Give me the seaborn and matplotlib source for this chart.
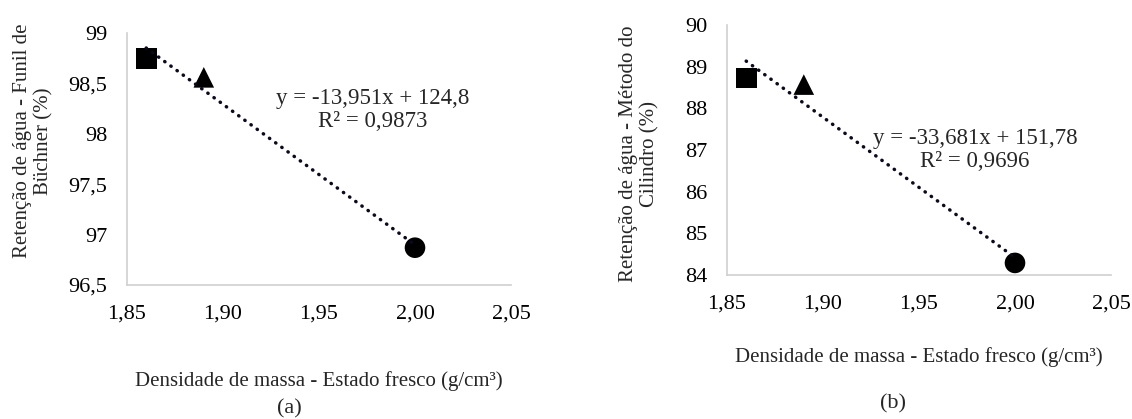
import matplotlib
matplotlib.use("Agg")
import matplotlib.pyplot as plt
import seaborn as sns
import numpy as np
import pandas as pd
from matplotlib.ticker import FuncFormatter, MultipleLocator

# ---- data ----
density = [1.86, 1.89, 2.00]
groups = ["A", "B", "C"]
ret_buchner = [98.75, 98.56, 96.87]
ret_cilindro = [88.73, 88.57, 84.29]
slope = [-13.951, -33.681]
intercept = [124.8, 151.78]
eq_text = ["y = -13,951x + 124,8\nR² = 0,9873", "y = -33,681x + 151,78\nR² = 0,9696"]
ylabels = ["Retenção de água - Funil de\nBüchner (%)", "Retenção de água - Método do\nCilindro (%)"]
xlabel = "Densidade de massa - Estado fresco (g/cm³)"
panel_tags = ["(a)", "(b)"]
ylims = [(96.5, 99.0), (84.0, 90.0)]
ysteps = [0.5, 1.0]

sns.set_theme(style="white")
plt.rcParams["font.family"] = ["Liberation Serif", "DejaVu Serif"]

fig = plt.figure(figsize=(11.32, 4.19), dpi=100)
W, H = 1132, 419
# axes boxes in pixels: left, top, right, bottom
boxes = [(127, 33, 511, 285), (727, 25, 1111, 275)]
ylab_pos = [(-0.243, 0.571), (-0.228, 0.484)]
xlab_y = [381, 357]
eq_pos = [(0.64, 0.695), (0.646, 0.5)]
tag_pos = [(289, 409), (893, 404)]

markers = {"A": "s", "B": "^", "C": "o"}
line_color = "#0a0a1c"

for i, yv in enumerate([ret_buchner, ret_cilindro]):
    l, t, r, b = boxes[i]
    ax = fig.add_axes([l / W, (H - b) / H, (r - l) / W, (b - t) / H])
    df = pd.DataFrame({"x": density, "y": yv, "g": groups})
    xs = np.array([min(density), max(density)])
    tl = pd.DataFrame({"x": xs, "y": slope[i] * xs + intercept[i]})
    sns.lineplot(data=tl, x="x", y="y", ax=ax, color=line_color, lw=2.5,
                 linestyle=(0, (0.1, 2.1)), dash_capstyle="round", zorder=3)
    sns.scatterplot(data=df, x="x", y="y", style="g", markers=markers, ax=ax,
                    color="black", s=220, edgecolor="none", legend=False, zorder=2)
    ax.set_xlim(1.85, 2.05)
    ax.set_ylim(*ylims[i])
    ax.xaxis.set_major_locator(MultipleLocator(0.05))
    ax.yaxis.set_major_locator(MultipleLocator(ysteps[i]))
    ax.xaxis.set_major_formatter(FuncFormatter(lambda v, p: f"{v:.2f}".replace(".", ",")))
    ax.yaxis.set_major_formatter(FuncFormatter(lambda v, p: f"{v:g}".replace(".", ",")))
    ax.tick_params(axis="both", length=0, labelsize=16, colors="black")
    ax.tick_params(axis="y", pad=14)
    ax.tick_params(axis="x", pad=14)
    for s in ["top", "right"]:
        ax.spines[s].set_visible(False)
    for s in ["left", "bottom"]:
        ax.spines[s].set_color("#d0d0d0")
        ax.spines[s].set_linewidth(1.2)
    ax.set_ylabel(ylabels[i], fontsize=15, va="center", ha="center", linespacing=1.15)
    ax.yaxis.set_label_coords(*ylab_pos[i])
    ax.set_xlabel(xlabel, fontsize=15, va="center")
    ax.xaxis.set_label_coords(0.5, (b - xlab_y[i]) / (b - t))
    ax.text(eq_pos[i][0], eq_pos[i][1], eq_text[i], transform=ax.transAxes,
            ha="center", va="center", multialignment="center", fontsize=16.5,
            linespacing=1.12)
    fig.text(tag_pos[i][0] / W, 1 - tag_pos[i][1] / H, panel_tags[i],
             ha="center", va="center", fontsize=16)

fig.savefig("out.png", dpi=100, facecolor="white")
